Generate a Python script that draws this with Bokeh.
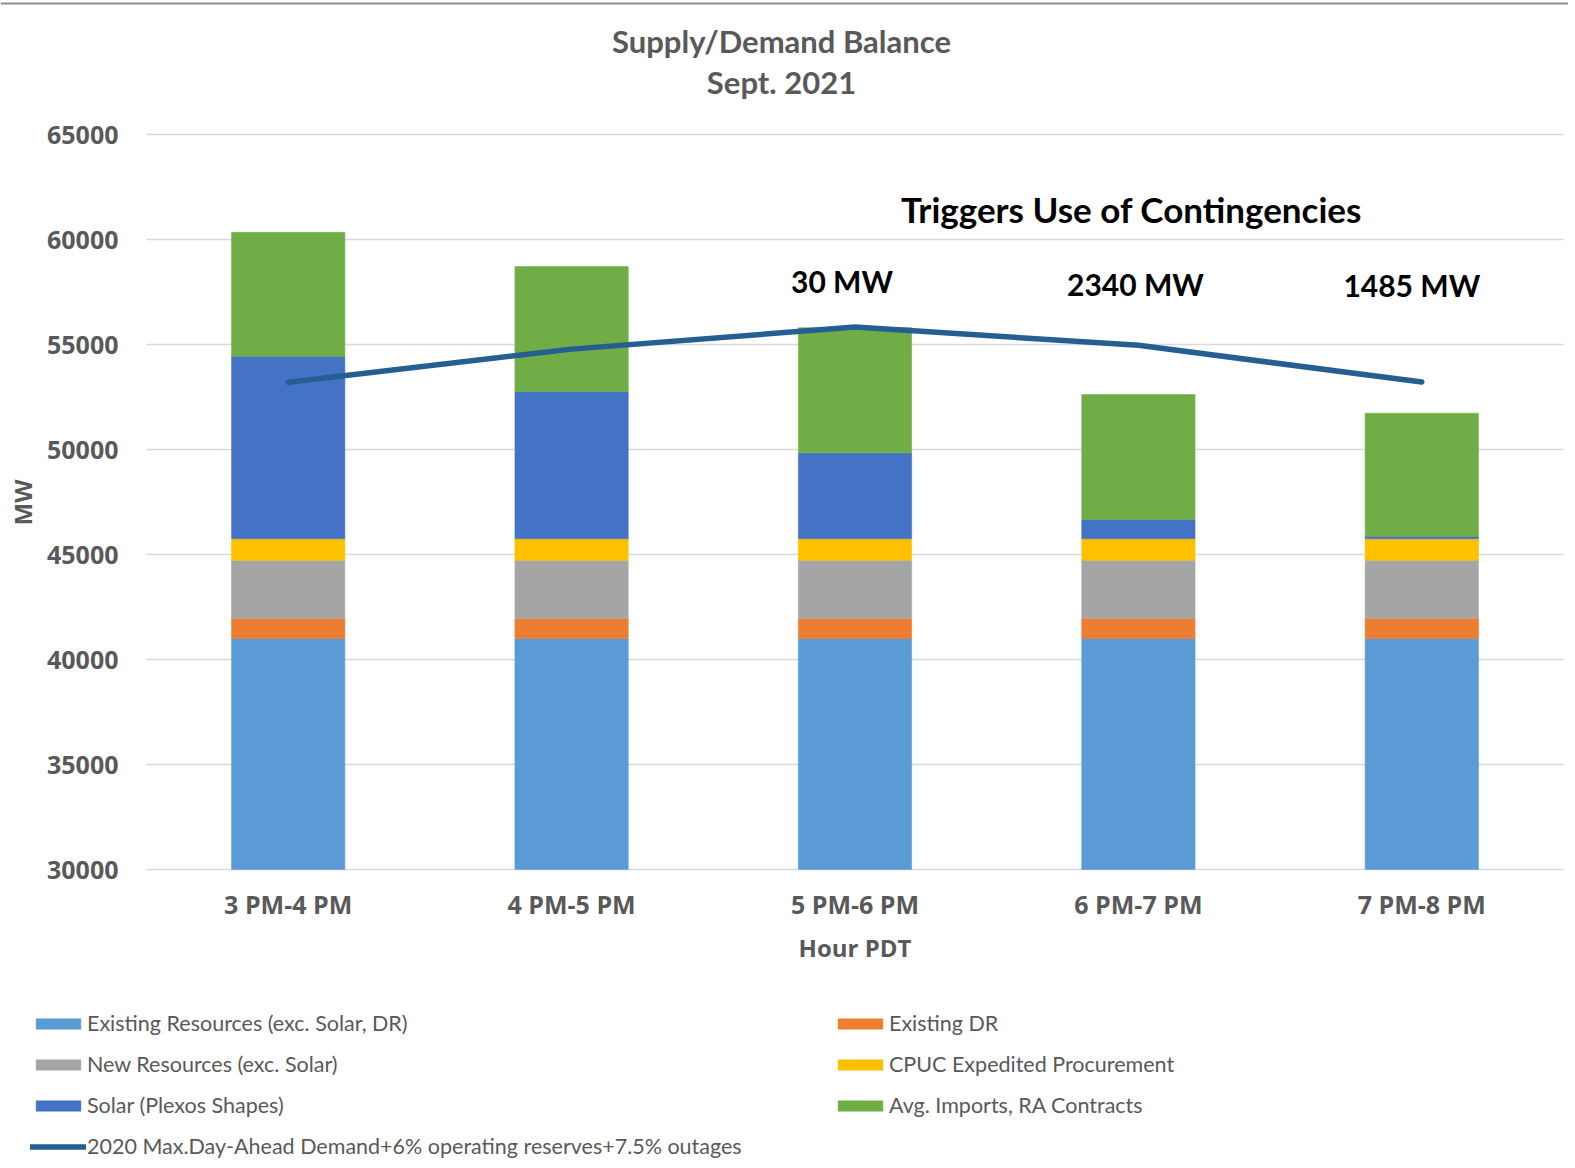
import math
from bokeh.plotting import figure
from bokeh.models import (Legend, LegendItem, Label, Span, FixedTicker,
                          NumeralTickFormatter, Range1d)
from bokeh.embed import file_html
from bokeh.resources import INLINE

# ---------------- data ----------------
categories = ["3 PM-4 PM", "4 PM-5 PM", "5 PM-6 PM", "6 PM-7 PM", "7 PM-8 PM"]
existing = [41000, 41000, 41000, 41000, 41000]
existing_dr = [950, 950, 950, 950, 950]
new_res = [2780, 2780, 2780, 2780, 2780]
cpuc = [1020, 1020, 1020, 1020, 1020]
solar = [8690, 7010, 4090, 920, 120]
imports = [5900, 5950, 5960, 5950, 5860]
demand = [53200, 54780, 55830, 54960, 53215]
y_ticks = [30000, 35000, 40000, 45000, 50000, 55000, 60000, 65000]

shortfall_cats = ["5 PM-6 PM", "6 PM-7 PM", "7 PM-8 PM"]
shortfall_labels = ["30 MW", "2340 MW", "1485 MW"]

series_values = [existing, existing_dr, new_res, cpuc, solar, imports]
series_names = ["Existing Resources (exc. Solar, DR)", "Existing DR",
                "New Resources (exc. Solar)", "CPUC Expedited Procurement",
                "Solar (Plexos Shapes)", "Avg. Imports, RA Contracts"]
series_colors = ["#5B9BD5", "#ED7D31", "#A5A5A5", "#FFC000", "#4472C4", "#70AD47"]
line_name = "2020 Max.Day-Ahead Demand+6% operating reserves+7.5% outages"

GRAY = "#595959"

# ---------------- layout geometry (pixels) ----------------
W, H = 1568, 1160
PLOT_L, PLOT_R = 146, 1563      # plot area left / right
Y_TOP_PX, Y_BOT_PX = 134, 869   # pixel rows of top / bottom tick

n = len(categories)
x_pos = [i + 0.5 for i in range(n)]
y_min, y_max = y_ticks[0], y_ticks[-1]
ppu_y = (Y_BOT_PX - Y_TOP_PX) / (y_max - y_min)
y_hi = y_max + Y_TOP_PX / ppu_y
y_lo = y_min - (H - Y_BOT_PX) / ppu_y
ppu_x = (PLOT_R - PLOT_L) / n
x_lo = -PLOT_L / ppu_x
x_hi = n + (W - PLOT_R) / ppu_x

p = figure(x_range=Range1d(x_lo, x_hi), y_range=Range1d(y_lo, y_hi),
           width=W, height=H, output_backend="svg", toolbar_location=None,
           min_border=0, min_border_left=0, min_border_right=0,
           min_border_top=0, min_border_bottom=0)
p.outline_line_color = None
p.xgrid.visible = False
p.ygrid.visible = False

# horizontal gridlines limited to the plot area
p.segment(x0=[0] * len(y_ticks), x1=[n] * len(y_ticks), y0=y_ticks, y1=y_ticks,
          line_color="#D9D9D9", line_width=1.5)

# stacked bars (cut at the axis floor)
bar_renderers = []
cum = [0] * n
for vals, color in zip(series_values, series_colors):
    bottom = [max(c, y_min) for c in cum]
    top = [c + v for c, v in zip(cum, vals)]
    r = p.vbar(x=x_pos, bottom=bottom, top=top, width=0.4,
               fill_color=color, line_color=color, line_width=0.5)
    bar_renderers.append(r)
    cum = top

line_r = p.line(x=x_pos, y=demand, line_width=5.5, line_color="#255E91",
                line_cap="round", line_join="round")

# axes
xa, ya = p.xaxis[0], p.yaxis[0]
xa.fixed_location = y_min
ya.fixed_location = 0
xa.ticker = FixedTicker(ticks=x_pos)
xa.major_label_overrides = {x: c for x, c in zip(x_pos, categories)}
ya.ticker = FixedTicker(ticks=y_ticks)
ya.formatter = NumeralTickFormatter(format="0")
for ax in (xa, ya):
    ax.axis_line_color = None
    ax.major_tick_line_color = None
    ax.minor_tick_line_color = None
    ax.major_tick_out = 0
    ax.major_tick_in = 0
    ax.minor_tick_out = 0
    ax.major_label_text_font = "Open Sans"
    ax.major_label_text_font_style = "bold"
    ax.major_label_text_font_size = "25px"
    ax.major_label_text_color = GRAY
ya.major_label_standoff = 28
xa.major_label_standoff = 17

def screen_label(x, y_from_top, text, size, color, font="Lato", angle=0.0):
    p.add_layout(Label(x=x, y=H - y_from_top, x_units="screen", y_units="screen",
                       text=text, text_align="center", text_baseline="middle",
                       angle=angle, text_font=font, text_font_style="bold",
                       text_font_size=size, text_color=color))

# axis titles
screen_label(22, 502, "MW", "24px", GRAY, font="Open Sans", angle=math.pi / 2)
screen_label((PLOT_L + PLOT_R) / 2, 947, "Hour PDT", "24px", GRAY, font="Open Sans")

# chart title
screen_label(781, 40, "Supply/Demand Balance", "31px", GRAY)
screen_label(781, 81, "Sept. 2021", "31px", GRAY)

# annotations
screen_label(1131, 208, "Triggers Use of Contingencies", "35px", "black")
offsets = [-13, -3, -10]
y_shift = [2, -1, -2]
for c, t, o, s in zip(shortfall_cats, shortfall_labels, offsets, y_shift):
    p.add_layout(Label(x=x_pos[categories.index(c)], y=57950, x_offset=o,
                       y_offset=s, text=t,
                       text_align="center", text_baseline="middle",
                       text_font="Lato", text_font_style="bold",
                       text_font_size="30px", text_color="black"))

# thin border at the very top of the picture
p.add_layout(Span(location=y_hi - 3 / ppu_y, dimension="width",
                  line_color="#8C8C8C", line_width=2))

# legends (two columns)
def make_legend(items, loc):
    return Legend(items=items, location=loc, orientation="vertical",
                  glyph_width=56, glyph_height=13, label_height=20, spacing=15,
                  padding=0, margin=0, label_standoff=1,
                  border_line_color=None, background_fill_alpha=0,
                  label_text_font="Lato", label_text_font_size="21.5px",
                  label_text_color=GRAY)

items1 = [LegendItem(label=series_names[0], renderers=[bar_renderers[0]]),
          LegendItem(label=series_names[2], renderers=[bar_renderers[2]]),
          LegendItem(label=series_names[4], renderers=[bar_renderers[4]]),
          LegendItem(label=line_name, renderers=[line_r])]
items2 = [LegendItem(label=series_names[1], renderers=[bar_renderers[1]]),
          LegendItem(label=series_names[3], renderers=[bar_renderers[3]]),
          LegendItem(label=series_names[5], renderers=[bar_renderers[5]])]
p.add_layout(make_legend(items1, (30, 1)))
p.add_layout(make_legend(items2, (832, 42)))

open("out.html", "w").write(file_html(p, INLINE))
